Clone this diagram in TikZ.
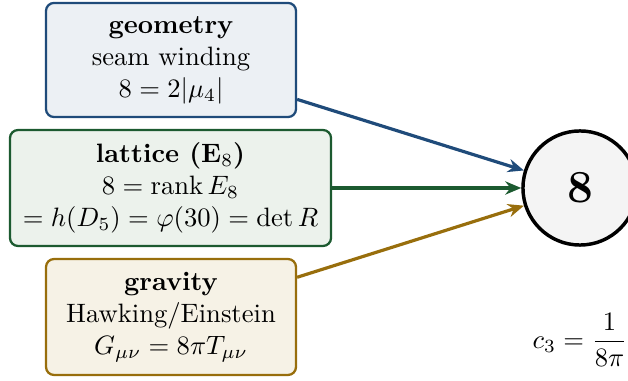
\documentclass[tikz,border=0pt]{standalone}
\usepackage{amsmath}
\usetikzlibrary{arrows.meta}
\definecolor{geoB}{RGB}{31,75,122}
\definecolor{geoF}{RGB}{236,240,244}
\definecolor{latB}{RGB}{28,90,48}
\definecolor{latF}{RGB}{236,242,236}
\definecolor{graB}{RGB}{152,110,12}
\definecolor{graF}{RGB}{246,242,230}
\definecolor{cirF}{RGB}{244,244,244}
\tikzset{
  srcbox/.style={draw, line width=0.85pt, rounded corners=3pt, align=center, inner sep=2pt, font=\normalsize},
  link/.style={line width=1.2pt, -{Stealth[length=6pt,width=5pt]}},
}
\begin{document}
\begin{tikzpicture}[x=0.376pt,y=-0.376pt]
\useasboundingbox (0,0) rectangle (628,381);
\node[srcbox, draw=geoB, fill=geoF, minimum width=94pt, minimum height=42.9pt] (geo) at (171,60)
  {\textbf{geometry}\\seam winding\\$8=2|\mu_4|$};
\node[srcbox, draw=latB, fill=latF, minimum width=120.7pt, minimum height=43.6pt] (lat) at (170.5,188)
  {\textbf{lattice ($\mathbf{E}_8$)}\\$8=\operatorname{rank}E_8$\\$=h(D_5)=\varphi(30)=\det R$};
\node[srcbox, draw=graB, fill=graF, minimum width=94pt, minimum height=43.6pt] (gra) at (171,317)
  {\textbf{gravity}\\Hawking/Einstein\\$G_{\mu\nu}=8\pi T_{\mu\nu}$};
\node[circle, draw=black, line width=1.3pt, fill=cirF, minimum size=42.9pt, inner sep=0pt, font=\LARGE\bfseries] (eight) at (580,188) {8};
\draw[link, draw=geoB] (geo) -- (eight);
\draw[link, draw=latB] (lat) -- (eight);
\draw[link, draw=graB] (gra) -- (eight);
\node (c3) at (580,340) {$c_3=\dfrac{1}{8\pi}$};
\end{tikzpicture}
\end{document}
